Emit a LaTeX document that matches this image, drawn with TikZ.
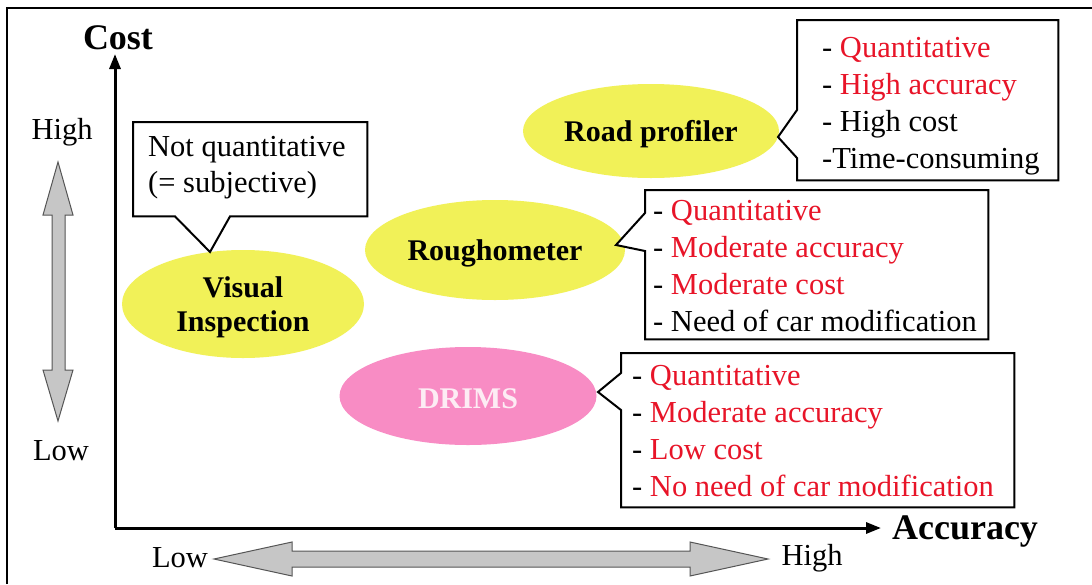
\documentclass[tikz,border=0pt]{standalone}
\usepackage{fontspec}
\setmainfont{Liberation Serif}
\usetikzlibrary{calc,arrows.meta,shapes.geometric}

\definecolor{ellyellow}{RGB}{241,241,88}
\definecolor{ellpink}{RGB}{248,140,196}
\definecolor{txtred}{RGB}{232,20,40}
\definecolor{arrgray}{RGB}{198,198,198}
\definecolor{arredge}{RGB}{85,85,85}
\definecolor{drimstxt}{RGB}{253,236,244}

\begin{document}
\begin{tikzpicture}[x=1pt,y=-1pt,
  body/.style={font=\fontsize{30.5}{37}\selectfont},
  blob/.style={ellipse, inner sep=0pt, align=center,
    font=\fontsize{30}{34}\selectfont\bfseries},
  blabel/.style={inner sep=0pt, align=center, yshift=-3pt,
    font=\fontsize{30}{34}\selectfont\bfseries},
  frame/.style={rectangle, inner sep=0pt, anchor=north west},
  listtext/.style={body, inner sep=0pt, align=left, anchor=west},
  outline/.style={draw=black, line width=2pt, line join=miter, fill=white},
  axis/.style={line width=3pt, -{Triangle[length=15pt,width=11pt]}},
  grayarrow/.style={fill=arrgray, draw=arredge, line width=1pt, line join=miter},
  axislabel/.style={font=\fontsize{36}{40}\selectfont\bfseries, inner sep=0pt},
  level/.style={body, inner sep=0pt}
]
% page and outer frame
\useasboundingbox (0,0) rectangle (1092,584);
\fill[white] (0,0) rectangle (1092,584);
\draw[line width=2pt] (7,584) -- (7,8) -- (1092,8);

% axes
\coordinate (origin) at (115,528);
\coordinate (ytip) at (115,54);
\coordinate (xtip) at (881,528);
\draw[axis] (origin) -- (ytip);
\draw[axis] (origin) -- (xtip);
\node[axislabel] (costlbl) at (118,38) {Cost};
\node[axislabel] (acclbl) at (965,531) {Accuracy};

% cost scale (vertical double arrow)
\node[level] (costhigh) at (62,132) {High};
\node[level] (costlow) at (61,451) {Low};
\draw[grayarrow] (58,162) -- (73,215) -- (65,215) -- (65,370) -- (73,370)
  -- (58,421) -- (43,370) -- (52,370) -- (52,215) -- (43,215) -- cycle;

% accuracy scale (horizontal double arrow)
\node[level] (acclow) at (180,558) {Low};
\node[level] (acchigh) at (812,558) {High};
\draw[grayarrow] (214,559) -- (292,542) -- (292,551) -- (690,551) -- (690,542)
  -- (768,559) -- (690,576) -- (690,567) -- (292,567) -- (292,576) -- cycle;

% methods
\node[blob, fill=ellyellow, minimum width=242, minimum height=108] (vis) at (243,304) {};
\node[blabel] (vislbl) at (vis) {Visual\\Inspection};
\node[blob, fill=ellyellow, minimum width=260, minimum height=100] (rough) at (495,250) {};
\node[blabel] (roughlbl) at (rough) {Roughometer};
\node[blob, fill=ellyellow, minimum width=256, minimum height=94] (prof) at (651,131) {};
\node[blabel] (proflbl) at (prof) {Road profiler};
\node[blob, fill=ellpink, minimum width=257, minimum height=98] (drims) at (468,396) {};
\node[blabel, text=drimstxt] (drimslbl) at (drims) {DRIMS};

% callout: visual inspection
\node[frame, minimum width=234, minimum height=94] (visbox) at (133,122) {};
\coordinate (vistip) at (210,252);
\draw[outline] (visbox.north west) -- (visbox.north east) -- (visbox.south east)
  -- ($(visbox.south west)+(97,0)$) -- (vistip) -- ($(visbox.south west)+(42,0)$)
  -- (visbox.south west) -- cycle;
\node[listtext, align=left, font=\fontsize{30.5}{36}\selectfont] (vistext) at (148,168)
  {Not quantitative\\(= subjective)};

% callout: road profiler
\node[frame, minimum width=261, minimum height=160] (profbox) at (797,20) {};
\coordinate (proftip) at (778,137);
\draw[outline] (profbox.north west) -- (profbox.north east) -- (profbox.south east)
  -- (profbox.south west) -- ($(profbox.north west)+(0,138)$) -- (proftip)
  -- ($(profbox.north west)+(0,90)$) -- cycle;
\node[listtext] (proftext) at (822,106)
  {- \textcolor{txtred}{Quantitative}\\
   - \textcolor{txtred}{High accuracy}\\
   - High cost\\
   -Time-consuming};

% callout: roughometer
\node[frame, minimum width=343, minimum height=149] (roughbox) at (645,190) {};
\coordinate (roughtip) at (616,245);
\draw[outline] (roughbox.north west) -- (roughbox.north east) -- (roughbox.south east)
  -- (roughbox.south west) -- ($(roughbox.north west)+(0,61)$) -- (roughtip)
  -- ($(roughbox.north west)+(0,23)$) -- cycle;
\node[listtext] (roughtext) at (653,266)
  {- \textcolor{txtred}{Quantitative}\\
   - \textcolor{txtred}{Moderate accuracy}\\
   - \textcolor{txtred}{Moderate cost}\\
   - Need of car modification};

% callout: DRIMS
\node[frame, minimum width=393, minimum height=154] (drimsbox) at (621,353) {};
\coordinate (drimstip) at (598,392);
\draw[outline] (drimsbox.north west) -- (drimsbox.north east) -- (drimsbox.south east)
  -- (drimsbox.south west) -- ($(drimsbox.north west)+(0,57)$) -- (drimstip)
  -- ($(drimsbox.north west)+(0,20)$) -- cycle;
\node[listtext] (drimstext) at (632,431)
  {- \textcolor{txtred}{Quantitative}\\
   - \textcolor{txtred}{Moderate accuracy}\\
   - \textcolor{txtred}{Low cost}\\
   - \textcolor{txtred}{No need of car modification}};
\end{tikzpicture}
\end{document}
